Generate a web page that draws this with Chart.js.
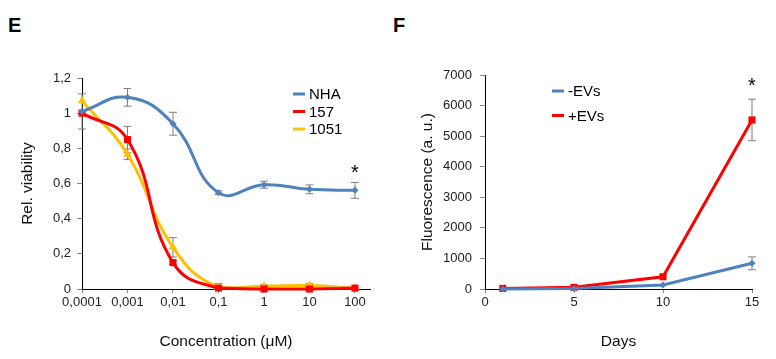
<!DOCTYPE html>
<html>
<head>
<meta charset="utf-8">
<script src="https://cdn.jsdelivr.net/npm/chart.js@4/dist/chart.umd.min.js"></script>
<style>
  body { margin: 0; background: #fff; }
  #wrap { position: relative; width: 776px; height: 359px; font-family: "Liberation Sans", Arial, sans-serif; }
  .panel { position: absolute; top: 0; width: 388px; height: 359px; }
  .letter { position: absolute; top: 14px; font-size: 20px; font-weight: bold; color: #000; }
</style>
</head>
<body>
<div id="wrap">
  <div class="letter" style="left:8px">E</div>
  <div class="letter" style="left:393px">F</div>
  <div class="panel" style="left:0"><canvas id="chartE" width="388" height="359"></canvas></div>
  <div class="panel" style="left:388px"><canvas id="chartF" width="388" height="359"></canvas></div>
</div>
<script>
// panel E: viability vs concentration (evenly spaced log steps)
const concLabels = ['0,0001', '0,001', '0,01', '0,1', '1', '10', '100'];
const nhaValues  = [1.01, 1.09, 0.94, 0.548, 0.593, 0.567, 0.561];
const nhaErrors  = [0.10, 0.05, 0.065, 0.01, 0.02, 0.025, 0.045];
const c157Values = [1.0, 0.85, 0.15, 0.005, 0.0, 0.0, 0.005];
const c157Errors = [0, 0.075, 0.01, 0.01, 0, 0, 0];
const c1051Values = [1.07, 0.766, 0.237, 0.01, 0.015, 0.02, 0.005];
const c1051Errors = [0, 0.03, 0.055, 0.02, 0.01, 0.01, 0];

// panel F: fluorescence vs days
const days = [1, 5, 10, 15];
const minusEVs = [0, 20, 130, 840];
const minusEVsErr = [0, 0, 0, 210];
const plusEVs = [20, 55, 400, 5530];
const plusEVsErr = [0, 0, 0, 680];

const FONT = '"Liberation Sans", Arial, sans-serif';
const BLUE = '#4F81BD', RED = '#FF0000', ORANGE = '#FFC000';

const errorBars = {
  id: 'errorBars',
  beforeDatasetsDraw(chart) {
    const {ctx, scales: {x, y}} = chart;
    ctx.save();
    ctx.strokeStyle = '#7f7f7f';
    ctx.lineWidth = 1;
    chart.data.datasets.forEach(ds => {
      if (!ds.errors) return;
      ds.data.forEach((p, j) => {
        const e = ds.errors[j];
        if (!e) return;
        const px = x.getPixelForValue(p.x);
        const t = y.getPixelForValue(p.y + e);
        const b = y.getPixelForValue(Math.max(p.y - e, y.min));
        ctx.beginPath();
        ctx.moveTo(px, t); ctx.lineTo(px, b);
        ctx.moveTo(px - 4, t); ctx.lineTo(px + 4, t);
        ctx.moveTo(px - 4, b); ctx.lineTo(px + 4, b);
        ctx.stroke();
      });
    });
    ctx.restore();
  }
};

const starMark = {
  id: 'starMark',
  afterDatasetsDraw(chart, args, opts) {
    if (!opts.at) return;
    const {ctx, scales: {x, y}} = chart;
    ctx.save();
    ctx.font = '20px ' + FONT;
    ctx.fillStyle = '#000';
    ctx.textAlign = 'center';
    ctx.textBaseline = 'middle';
    ctx.fillText('*', x.getPixelForValue(opts.at[0]), y.getPixelForValue(opts.at[1]) + 4);
    ctx.restore();
  }
};

const boxLegend = {
  id: 'boxLegend',
  afterDraw(chart, args, opts) {
    const ctx = chart.ctx;
    ctx.save();
    ctx.font = '15px ' + FONT;
    ctx.textBaseline = 'middle';
    ctx.fillStyle = '#000';
    chart.data.datasets.forEach((ds, i) => {
      const yy = opts.y + i * opts.gap;
      ctx.strokeStyle = ds.borderColor;
      ctx.lineWidth = 3;
      ctx.beginPath();
      ctx.moveTo(opts.x, yy); ctx.lineTo(opts.x + 12, yy);
      ctx.stroke();
      ctx.fillText(ds.label, opts.x + 16, yy + 1);
    });
    ctx.restore();
  }
};

const tickFont = { family: FONT, size: 13 };
const titleFont = { family: FONT, size: 15.5 };

function series(label, xs, ys, errs, color, style, r) {
  return {
    label: label,
    data: ys.map((v, i) => ({ x: xs[i], y: v })),
    errors: errs,
    borderColor: color,
    backgroundColor: color,
    borderWidth: 3,
    pointStyle: style,
    pointRadius: r,
    pointBorderWidth: 0,
    clip: false
  };
}

const idx = concLabels.map((_, i) => i);

new Chart(document.getElementById('chartE'), {
  type: 'line',
  data: {
    datasets: [
      series('NHA', idx, nhaValues, nhaErrors, BLUE, 'rectRot', 3.5),
      series('157', idx, c157Values, c157Errors, RED, 'rect', 5),
      series('1051', idx, c1051Values, c1051Errors, ORANGE, 'triangle', 5)
    ]
  },
  options: {
    responsive: false,
    animation: false,
    layout: { padding: { top: 78, right: 18, left: 0, bottom: 0 } },
    elements: { line: { tension: 0.45 } },
    plugins: {
      legend: { display: false },
      tooltip: { enabled: false },
      boxLegend: { x: 293, y: 94, gap: 17.5 },
      starMark: { at: [6, 0.68] }
    },
    scales: {
      x: {
        type: 'linear', min: 0, max: concLabels.length - 1 + 0.33,
        afterBuildTicks: s => { s.ticks = idx.map(v => ({ value: v })); },
        afterFit: s => { s.height = 70; },
        ticks: { font: tickFont, color: '#222', padding: 2, maxRotation: 0, autoSkip: false,
                 callback: v => concLabels[v] },
        grid: { drawOnChartArea: false, tickLength: 4, color: '#888' },
        border: { color: '#000' },
        title: { display: true, text: 'Concentration (μM)', font: titleFont, color: '#111', padding: { top: 0, bottom: 8 } }
      },
      y: {
        min: 0, max: 1.2,
        afterFit: s => { s.width = 82; },
        ticks: { stepSize: 0.2, font: tickFont, color: '#222', padding: 6,
                 callback: v => String(Math.round(v * 10) / 10).replace('.', ',') },
        grid: { drawOnChartArea: false, tickLength: 5, color: '#888' },
        border: { color: '#000' },
        title: { display: true, text: 'Rel. viability', font: titleFont, color: '#111', padding: { top: 18, bottom: 0 } }
      }
    }
  },
  plugins: [errorBars, starMark, boxLegend]
});

new Chart(document.getElementById('chartF'), {
  type: 'line',
  data: {
    datasets: [
      series('-EVs', days, minusEVs, minusEVsErr, BLUE, 'rectRot', 3.5),
      series('+EVs', days, plusEVs, plusEVsErr, RED, 'rect', 5)
    ]
  },
  options: {
    responsive: false,
    animation: false,
    layout: { padding: { top: 75, right: 24, left: 0, bottom: 0 } },
    elements: { line: { tension: 0 } },
    plugins: {
      legend: { display: false },
      tooltip: { enabled: false },
      boxLegend: { x: 164, y: 91, gap: 24.5 },
      starMark: { at: [15, 6740] }
    },
    scales: {
      x: {
        type: 'linear', min: 0, max: 15,
        afterFit: s => { s.height = 70; },
        ticks: { stepSize: 5, font: tickFont, color: '#222', padding: 2, maxRotation: 0 },
        grid: { drawOnChartArea: false, tickLength: 4, color: '#888' },
        border: { color: '#000' },
        title: { display: true, text: 'Days', font: titleFont, color: '#111', padding: { top: 0, bottom: 8 } }
      },
      y: {
        min: 0, max: 7000,
        afterFit: s => { s.width = 97; },
        ticks: { stepSize: 1000, font: tickFont, color: '#222', padding: 8, callback: v => String(v) },
        grid: { drawOnChartArea: false, tickLength: 5, color: '#888' },
        border: { color: '#000' },
        title: { display: true, text: 'Fluorescence (a. u.)', font: titleFont, color: '#111', padding: { top: 30, bottom: 0 } }
      }
    }
  },
  plugins: [errorBars, starMark, boxLegend]
});
</script>
</body>
</html>
